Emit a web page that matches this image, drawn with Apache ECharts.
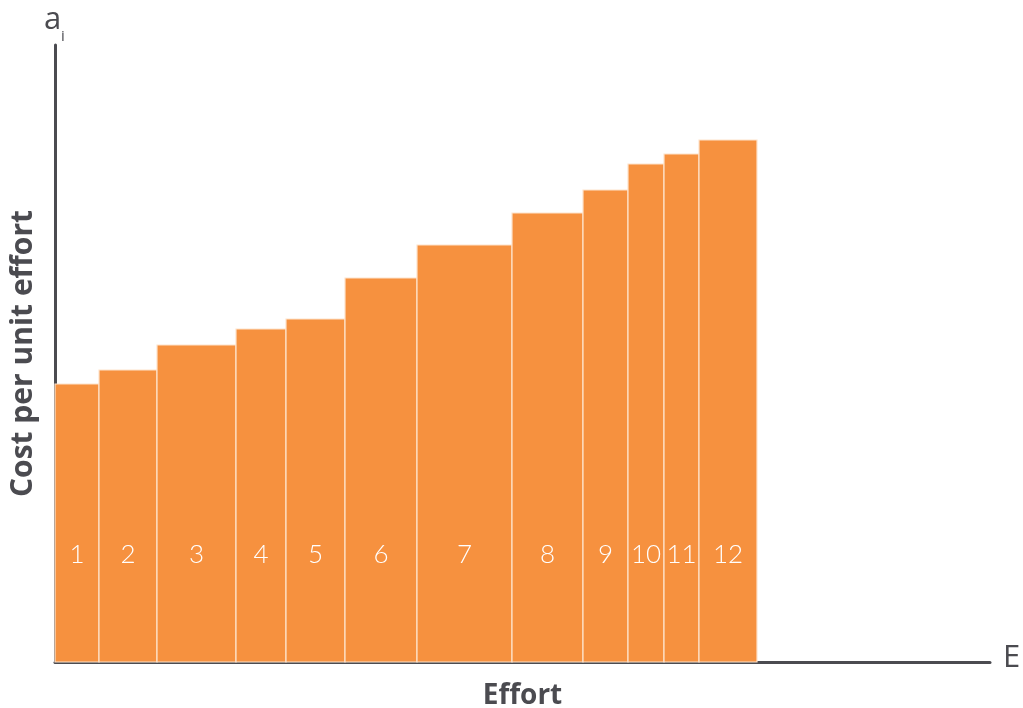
<!DOCTYPE html>
<html>
<head>
<meta charset="utf-8">
<script src="https://cdn.jsdelivr.net/npm/echarts@6/dist/echarts.min.js"></script>
<style>html,body{margin:0;padding:0;background:#fff;}#c{width:1023px;height:708px;}</style>
</head>
<body>
<div id="c"></div>
<script>
// Measures (abatement options), effort widths and cost per unit effort
const labels = ['1','2','3','4','5','6','7','8','9','10','11','12'];
const efforts = [44, 58, 79, 50, 59, 72, 95, 71, 45, 36, 35, 58];
const costs = [278, 292, 317, 333, 343, 384, 417, 449, 472, 498, 508, 522];
const xMax = 935;
const yMax = 617;

const data = [];
let start = 0;
for (let i = 0; i < labels.length; i++) {
  data.push([start, start + efforts[i], costs[i], labels[i]]);
  start += efforts[i];
}

const chart = echarts.init(document.getElementById('c'));
const axisColor = '#4b4b50';
chart.setOption({
  animation: false,
  grid: { left: 55, right: 33, top: 45, bottom: 46, containLabel: false, outerBoundsMode: 'none' },
  xAxis: {
    type: 'value', min: 0, max: xMax,
    name: 'Effort', nameLocation: 'middle', nameGap: 20,
    nameTextStyle: { fontFamily: 'Open Sans', fontWeight: 'bold', fontSize: 28, color: '#4b4b50' },
    axisLine: { show: true, lineStyle: { color: axisColor, width: 3 } },
    axisTick: { show: false }, axisLabel: { show: false }, splitLine: { show: false }
  },
  yAxis: {
    type: 'value', min: 0, max: yMax,
    name: 'Cost per unit effort', nameLocation: 'middle', nameGap: 17, nameRotate: 90,
    nameTextStyle: { fontFamily: 'Open Sans', fontWeight: 'bold', fontSize: 30, color: '#4b4b50' },
    axisLine: { show: true, lineStyle: { color: axisColor, width: 3 } },
    axisTick: { show: false }, axisLabel: { show: false }, splitLine: { show: false }
  },
  graphic: [
    { type: 'text', left: 1003, top: 643, style: { text: 'E', fontFamily: 'Open Sans', fontSize: 31, fill: '#4b4b50' } },
    { type: 'text', left: 44, top: 5, style: { text: 'a', fontFamily: 'Open Sans', fontSize: 31, fill: '#4b4b50' } },
    { type: 'text', left: 61, top: 29, style: { text: 'i', fontFamily: 'Open Sans', fontSize: 15, fill: '#4b4b50' } }
  ],
  series: [{
    type: 'custom',
    data: data,
    encode: { x: [0, 1], y: 2 },
    renderItem: function (params, api) {
      const p0 = api.coord([api.value(0), 0]);
      const p1 = api.coord([api.value(1), api.value(2)]);
      const x = p0[0], w = p1[0] - p0[0];
      const y = p1[1], h = p0[1] - p1[1];
      return {
        type: 'group',
        children: [
          { type: 'rect', shape: { x: x, y: y, width: w, height: h },
            style: { fill: '#f6913f', stroke: '#fde3cc', lineWidth: 1.2 } },
          { type: 'text', x: x + w / 2, y: api.coord([0, 107])[1],
            style: { text: api.value(3), fill: '#ffffff', fontFamily: 'Lato', fontWeight: 300, fontSize: 26,
                     align: 'center', verticalAlign: 'middle' } }
        ]
      };
    }
  }]
});
</script>
</body>
</html>
